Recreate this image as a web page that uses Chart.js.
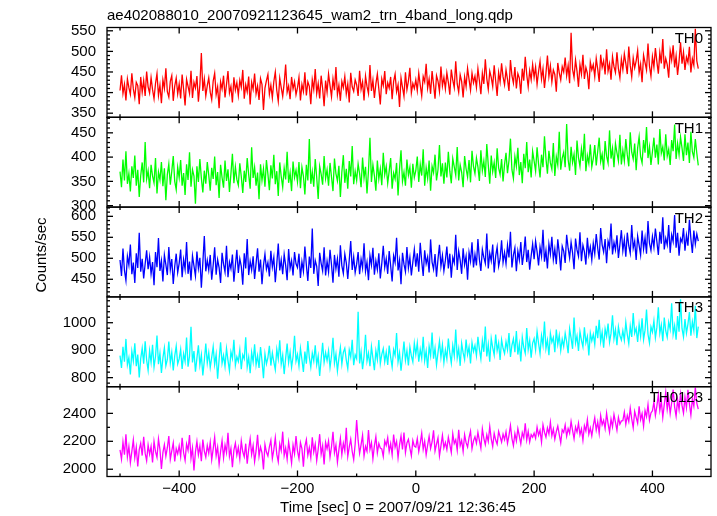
<!DOCTYPE html>
<html>
<head>
<meta charset="utf-8">
<script src="https://cdn.jsdelivr.net/npm/chart.js@4.4.1/dist/chart.umd.min.js"></script>
<style>
  html, body { margin: 0; padding: 0; background: #fff; }
  #wrap { width: 717px; height: 516px; }
</style>
</head>
<body>
<div id="wrap"><canvas id="lc" width="717" height="516"></canvas></div>
<script>
// ==== Textes
const TITLE = "ae402088010_20070921123645_wam2_trn_4band_long.qdp";
const X_TITLE = "Time [sec] 0 = 2007/09/21 12:36:45";
const Y_TITLE = "Counts/sec";

// ==== Grille temporelle (début des bins, pas en secondes)
const T_START = -500;
const T_STEP = 2.5;

// ==== Panneaux
const panelNames = ["TH0", "TH1", "TH2", "TH3", "TH0123"];
const panelColors = ["#ff0000", "#00ff00", "#0000ff", "#00ffff", "#ff00ff"];
const yMin = [340, 297, 408, 767, 1948];
const yMax = [558, 482, 622, 1094, 2591];
const yMinor = [10, 10, 10, 20, 100];
const yTicks = [
  [350, 400, 450, 500, 550],
  [300, 350, 400, 450],
  [450, 500, 550, 600],
  [800, 900, 1000],
  [2000, 2200, 2400]
];
const xTicks = [-400, -200, 0, 200, 400];

// ==== Séries (une valeur toutes les 2.5 s, une ligne = 50 s)
const th0 = [
  405, 442, 398, 420, 381, 433, 412, 396, 447, 409, 388, 425, 417, 372, 438, 401, 429, 392, 451, 414,
  399, 436, 407, 385, 422, 446, 393, 418, 374, 431, 410, 459, 402, 389, 427, 441, 380, 416, 435, 397,
  421, 386, 444, 408, 369, 432, 415, 398, 453, 387, 425, 411, 440, 378, 419, 496, 404, 433, 392, 417,
  436, 401, 383, 428, 447, 395, 414, 362, 426, 409, 441, 388, 420, 452, 399, 415, 376, 437, 406, 424,
  393, 430, 413, 455, 385, 419, 402, 439, 371, 425, 408, 446, 397, 416, 382, 434, 420, 358, 411, 429,
  444, 396, 418, 387, 427, 450, 405, 379, 435, 412, 391, 423, 468, 401, 416, 384, 438, 409, 426, 395,
  412, 437, 381, 420, 403, 449, 393, 426, 415, 372, 431, 408, 457, 398, 422, 386, 441, 410, 367, 429,
  401, 445, 417, 390, 433, 406, 462, 395, 418, 380, 427, 412, 439, 397, 421, 376, 448, 414, 403, 431,
  419, 392, 453, 408, 426, 381, 440, 415, 398, 467, 404, 430, 387, 421, 445, 409, 371, 433, 417, 452,
  396, 424, 411, 438, 384, 427, 445, 402, 419, 365, 436, 413, 391, 449, 407, 428, 460, 399, 422, 410,
  431, 405, 447, 418, 392, 439, 426, 470, 411, 433, 397, 452, 420, 385, 441, 428, 403, 463, 416, 437,
  409, 448, 425, 395, 456, 430, 412, 476, 421, 401, 443, 427, 388, 438, 415, 459, 432, 406, 447, 424,
  440, 413, 458, 429, 396, 447, 421, 481, 434, 408, 452, 437, 415, 466, 428, 392, 449, 426, 471, 438,
  419, 455, 432, 404, 479, 441, 423, 462, 410, 446, 435, 397, 458, 429, 487, 444, 414, 453, 431, 468,
  437, 462, 420, 451, 476, 433, 458, 411, 447, 490, 439, 465, 426, 455, 444, 402, 472, 448, 431, 463,
  450, 485, 441, 466, 423, 545, 456, 437, 479, 452, 414, 468, 445, 492, 433, 461, 447, 408, 474, 455,
  468, 439, 483, 457, 426, 492, 461, 477, 444, 505, 452, 470, 431, 487, 463, 449, 498, 458, 436, 481,
  456, 494, 471, 445, 512, 466, 438, 484, 460, 477, 502, 448, 469, 425, 491, 473, 455, 519, 464, 440,
  487, 462, 508, 475, 446, 497, 471, 530, 458, 483, 468, 436, 501, 479, 515, 461, 489, 443, 476, 522,
  470, 498, 455, 486, 473, 511, 449, 482, 466, 555, 477, 458
];
const th1 = [
  370, 338, 395, 352, 412, 345, 366, 329, 381, 357, 403, 341, 374, 318, 362, 389, 348, 431, 355, 372,
  336, 384, 361, 347, 398, 325, 369, 353, 390, 340, 377, 311, 364, 386, 343, 371, 402, 350, 333, 379,
  358, 394, 341, 367, 322, 385, 353, 410, 339, 374, 361, 304, 381, 349, 396, 357, 327, 372, 345, 390,
  363, 331, 378, 355, 401, 342, 369, 316, 384, 358, 337, 393, 351, 375, 328, 366, 407, 346, 380, 354,
  342, 387, 360, 326, 372, 349, 398, 364, 335, 420, 357, 379, 341, 368, 313, 385, 352, 376, 339, 394,
  365, 332, 383, 356, 405, 344, 371, 320, 389, 360, 338, 377, 354, 411, 347, 368, 330, 391, 358, 373,
  349, 390, 336, 379, 361, 323, 384, 352, 437, 345, 370, 339, 396, 358, 314, 381, 365, 343, 402, 356,
  374, 341, 388, 359, 330, 397, 366, 351, 382, 318, 369, 404, 347, 376, 335, 392, 360, 423, 344, 371,
  352, 386, 366, 338, 399, 357, 380, 325, 372, 440, 349, 384, 362, 331, 393, 355, 376, 342, 409, 364,
  381, 346, 371, 398, 335, 367, 355, 388, 321, 376, 414, 350, 369, 341, 395, 363, 379, 337, 386, 358,
  372, 401, 349, 385, 362, 416, 341, 378, 356, 393, 331, 381, 368, 405, 352, 374, 425, 360, 387, 345,
  389, 358, 411, 371, 346, 397, 380, 363, 421, 352, 384, 369, 338, 402, 376, 359, 394, 348, 413, 381,
  366, 398, 380, 351, 414, 372, 392, 359, 427, 384, 345, 403, 370, 389, 357, 418, 378, 364, 396, 350,
  385, 409, 367, 393, 438, 374, 356, 401, 381, 419, 363, 390, 346, 407, 377, 431, 369, 395, 358, 412,
  392, 371, 420, 386, 358, 405, 379, 443, 397, 366, 413, 388, 375, 429, 361, 401, 384, 452, 374, 398,
  410, 379, 468, 395, 372, 421, 389, 406, 363, 434, 399, 381, 417, 392, 448, 371, 403, 387, 426, 380,
  397, 425, 383, 412, 440, 391, 406, 374, 433, 402, 388, 455, 397, 418, 379, 428, 409, 392, 446, 385,
  414, 392, 437, 405, 381, 451, 410, 396, 428, 373, 419, 442, 401, 388, 435, 409, 462, 398, 421, 384,
  411, 440, 399, 426, 385, 458, 408, 421, 393, 447, 402, 416, 384, 435, 412, 467, 396, 428, 405, 441,
  419, 392, 447, 404, 430, 388, 452, 411, 399, 437, 408, 383
];
const th2 = [
  496, 458, 523, 471, 447, 505, 484, 533, 462, 490, 441, 512, 477, 561, 468, 499, 452, 487, 519, 474,
  503, 463, 491, 436, 515, 479, 548, 470, 494, 445, 508, 485, 460, 527, 473, 498, 439, 481, 511, 466,
  488, 521, 455, 497, 474, 539, 463, 492, 447, 506, 482, 458, 516, 476, 501, 430, 489, 553, 469, 495,
  472, 508, 449, 484, 526, 461, 497, 478, 441, 513, 486, 467, 530, 455, 491, 475, 509, 444, 483, 520,
  465, 499, 481, 437, 512, 476, 546, 460, 493, 472, 505, 451, 488, 524, 468, 497, 438, 483, 510, 474,
  490, 457, 518, 479, 502, 443, 486, 535, 471, 496, 462, 509, 483, 448, 522, 476, 494, 459, 515, 487,
  478, 511, 453, 492, 469, 528, 484, 446, 504, 477, 571, 463, 495, 481, 434, 513, 488, 470, 526, 459,
  493, 467, 520, 485, 442, 508, 475, 499, 456, 531, 482, 464, 510, 489, 451, 496, 541, 472, 503, 466,
  486, 515, 462, 498, 477, 536, 469, 491, 448, 507, 484, 525, 461, 494, 473, 512, 452, 488, 530, 478,
  499, 463, 517, 482, 445, 506, 490, 549, 471, 495, 438, 513, 486, 468, 527, 477, 502, 459, 491, 521,
  480, 512, 468, 537, 493, 458, 519, 487, 503, 466, 545, 491, 474, 510, 456, 498, 532, 481, 507, 470,
  495, 528, 476, 511, 454, 502, 489, 556, 472, 517, 496, 463, 524, 485, 505, 449, 514, 493, 538, 478,
  509, 483, 546, 497, 470, 521, 502, 488, 559, 476, 512, 494, 533, 466, 505, 527, 481, 499, 543, 490,
  514, 487, 531, 502, 563, 478, 508, 525, 469, 517, 496, 539, 484, 511, 552, 491, 520, 473, 506, 534,
  498, 541, 516, 483, 527, 505, 568, 492, 519, 476, 534, 510, 551, 497, 522, 486, 545, 513, 471, 529,
  517, 489, 556, 524, 501, 538, 513, 474, 547, 520, 505, 562, 493, 531, 516, 485, 549, 508, 527, 496,
  536, 511, 558, 524, 497, 572, 532, 515, 546, 488, 541, 527, 583, 509, 538, 520, 555, 501, 533, 567,
  518, 545, 504, 561, 530, 512, 579, 524, 541, 496, 553, 531, 508, 566, 522, 549, 511, 589, 536, 519,
  552, 527, 571, 540, 508, 563, 535, 598, 521, 548, 532, 579, 513, 556, 540, 603, 525, 561, 506, 547,
  539, 572, 518, 555, 530, 592, 547, 513, 566, 534, 558, 541
];
const th3 = [
  880, 835, 912, 858, 941, 847, 873, 812, 896, 861, 925, 842, 884, 801, 869, 907, 851, 932, 864, 827,
  898, 856, 920, 838, 877, 953, 849, 889, 817, 872, 908, 843, 866, 931, 854, 892, 826, 879, 915, 850,
  868, 903, 832, 887, 859, 946, 840, 878, 985, 855, 897, 822, 871, 918, 846, 883, 808, 862, 924, 853,
  891, 837, 874, 913, 848, 885, 796, 867, 929, 852, 881, 841, 906, 863, 825, 894, 870, 938, 845, 876,
  859, 901, 831, 883, 868, 947, 839, 874, 816, 892, 857, 921, 846, 880, 835, 911, 862, 798, 887, 850,
  873, 916, 844, 890, 857, 829, 903, 868, 936, 849, 882, 813, 871, 924, 855, 893, 838, 877, 952, 860,
  884, 842, 907, 866, 821, 895, 851, 933, 874, 838, 889, 861, 918, 847, 879, 806, 868, 927, 856, 891,
  862, 898, 837, 879, 945, 853, 886, 824, 871, 910, 849, 892, 907, 864, 833, 901, 875, 938, 845, 883,
  869, 1040, 852, 894, 831, 878, 956, 860, 889, 842, 913, 871, 827, 898, 866, 937, 851, 885, 906, 858,
  893, 846, 917, 874, 839, 902, 881, 962, 857, 890, 825, 876, 931, 863, 898, 844, 912, 879, 857, 925,
  884, 926, 858, 903, 871, 949, 862, 897, 835, 914, 880, 964, 869, 908, 846, 891, 933, 874, 919, 855,
  901, 868, 942, 889, 853, 917, 880, 975, 872, 906, 843, 925, 891, 866, 939, 884, 912, 852, 928, 895,
  917, 880, 949, 903, 868, 935, 894, 986, 877, 921, 858, 943, 909, 882, 957, 898, 926, 864, 938, 907,
  888, 931, 902, 962, 875, 918, 941, 893, 970, 884, 923, 859, 947, 910, 889, 981, 902, 935, 873, 926,
  942, 901, 968, 925, 887, 953, 918, 1004, 906, 937, 882, 961, 929, 946, 893, 975, 921, 954, 899, 940,
  913, 961, 930, 889, 978, 944, 905, 1019, 926, 952, 897, 968, 936, 912, 983, 927, 950, 881, 962, 934,
  958, 921, 989, 944, 1011, 931, 966, 909, 978, 950, 997, 929, 961, 1027, 942, 975, 918, 985, 953, 937,
  971, 936, 1002, 957, 924, 988, 948, 1035, 962, 980, 930, 994, 951, 1016, 939, 973, 1048, 958, 926, 985,
  966, 1007, 945, 983, 1056, 961, 992, 933, 1019, 970, 947, 1002, 976, 1071, 958, 990, 938, 1024, 967, 1085,
  979, 948, 1013, 962, 995, 1039, 953, 1004, 971, 1062, 944, 986
];
const th0123 = [
  2138, 2072, 2195, 2104, 2251, 2089, 2163, 2047, 2128, 2210, 2083, 2157, 2020, 2141, 2186, 2098, 2232, 2115, 2061, 2174,
  2107, 2163, 2049, 2198, 2126, 2085, 2217, 2141, 2002, 2119, 2176, 2093, 2154, 2238, 2071, 2132, 2189, 2056, 2148, 2110,
  2167, 2091, 2225, 2118, 2064, 2181, 2136, 2245, 2079, 2152, 1992, 2124, 2199, 2103, 2166, 2058, 2213, 2130, 2087, 2171,
  2114, 2193, 2068, 2146, 2230, 2097, 2159, 2036, 2128, 2205, 2082, 2174, 2119, 2261, 2092, 2148, 2015, 2137, 2187, 2101,
  2156, 2073, 2202, 2125, 2089, 2183, 2039, 2142, 2218, 2106, 2169, 2055, 2131, 2246, 2094, 2160, 2117, 1998, 2178, 2123,
  2095, 2161, 2208, 2077, 2140, 2226, 2108, 2053, 2181, 2133, 2269, 2099, 2152, 2071, 2195, 2126, 2044, 2173, 2112, 2237,
  2131, 2076, 2190, 2148, 2019, 2164, 2212, 2101, 2155, 2083, 2228, 2124, 2179, 2062, 2143, 2251, 2109, 2168, 2035, 2192,
  2146, 2203, 2087, 2161, 2268, 2118, 2174, 2051, 2139, 2221, 2105, 2186, 2133, 2297, 2092, 2158, 2215, 2127, 2069, 2181,
  2352, 2208, 2114, 2176, 2244, 2095, 2163, 2129, 2281, 2142, 2190, 2075, 2167, 2233, 2118, 2184, 2152, 2146, 2091, 2203,
  2171, 2226, 2128, 2184, 2104, 2249, 2158, 2199, 2083, 2175, 2238, 2141, 2263, 2120, 2188, 2214, 2151, 2097, 2206, 2165,
  2158, 2219, 2127, 2186, 2258, 2143, 2201, 2104, 2172, 2236, 2149, 2195, 2278, 2131, 2180, 2224, 2096, 2167, 2243, 2153,
  2192, 2141, 2229, 2176, 2119, 2254, 2184, 2211, 2137, 2283, 2168, 2206, 2128, 2247, 2190, 2159, 2226, 2272, 2147, 2203,
  2232, 2187, 2264, 2205, 2151, 2289, 2221, 2176, 2247, 2199, 2306, 2218, 2163, 2257, 2209, 2180, 2271, 2233, 2194, 2251,
  2212, 2268, 2186, 2243, 2314, 2220, 2169, 2256, 2203, 2291, 2238, 2182, 2262, 2225, 2329, 2210, 2271, 2196, 2248, 2230,
  2259, 2221, 2301, 2243, 2278, 2194, 2318, 2265, 2230, 2296, 2253, 2336, 2240, 2287, 2216, 2270, 2309, 2248, 2190, 2283,
  2264, 2317, 2236, 2291, 2258, 2342, 2279, 2219, 2303, 2266, 2329, 2247, 2288, 2208, 2312, 2274, 2355, 2251, 2296, 2239,
  2312, 2368, 2281, 2339, 2257, 2384, 2318, 2350, 2292, 2401, 2327, 2266, 2359, 2304, 2392, 2335, 2279, 2371, 2322, 2346,
  2348, 2409, 2322, 2385, 2341, 2436, 2360, 2297, 2414, 2372, 2330, 2451, 2355, 2398, 2309, 2420, 2376, 2462, 2351, 2403,
  2418, 2481, 2386, 2452, 2533, 2421, 2490, 2372, 2463, 2552, 2430, 2505, 2399, 2476, 2571, 2445, 2381, 2497, 2428, 2539,
  2457, 2402, 2516, 2441, 2568, 2468, 2389, 2503, 2452, 2585, 2474, 2431
];
const series = [th0, th1, th2, th3, th0123];
const times = th0.map((_, i) => T_START + i * T_STEP);

const FONT = "'Liberation Sans', Arial, Helvetica, sans-serif";

// ==== Cadres, graduations et textes à la façon QDP
const qdpFrame = {
  id: "qdpFrame",
  beforeDatasetDraw(chart, args) {
    const ys = args.meta.yScale, a = chart.chartArea, ctx = chart.ctx;
    ctx.save();
    ctx.beginPath();
    ctx.rect(a.left, ys.top, a.right - a.left, ys.bottom - ys.top);
    ctx.clip();
  },
  afterDatasetDraw(chart) {
    chart.ctx.restore();
  },
  afterDraw(chart) {
    const ctx = chart.ctx, a = chart.chartArea, xs = chart.scales.x;
    const seg = (x1, y1, x2, y2) => {
      ctx.beginPath(); ctx.moveTo(x1, y1); ctx.lineTo(x2, y2); ctx.stroke();
    };
    ctx.save();
    ctx.strokeStyle = "#000";
    ctx.lineWidth = 1.3;
    panelNames.forEach((name, p) => {
      const ys = chart.scales["y" + p];
      const top = ys.top, bot = ys.bottom;
      ctx.strokeRect(a.left, top, a.right - a.left, bot - top);
      for (let v = -500; v <= 400; v += 100) {
        const px = xs.getPixelForValue(v);
        const len = v % 200 === 0 ? 6 : 3;
        seg(px, top, px, top + len);
        seg(px, bot, px, bot - len);
      }
      for (let v = Math.ceil(yMin[p] / yMinor[p]) * yMinor[p]; v <= yMax[p]; v += yMinor[p]) {
        const py = ys.getPixelForValue(v);
        const len = yTicks[p].includes(v) ? 6 : 3;
        seg(a.left, py, a.left + len, py);
        seg(a.right, py, a.right - len, py);
      }
      ctx.fillStyle = "#000";
      ctx.font = "15px " + FONT;
      ctx.textAlign = "right";
      ctx.textBaseline = "alphabetic";
      ctx.fillText(name, 703, top + 15.5);
    });

    ctx.fillStyle = "#000";
    ctx.font = "15px " + FONT;
    ctx.textAlign = "left";
    ctx.textBaseline = "alphabetic";
    ctx.fillText(TITLE, a.left, 19.5);

    ctx.textAlign = "center";
    ctx.fillText(X_TITLE, 398, 511.5);

    ctx.translate(46, 255);
    ctx.rotate(-Math.PI / 2);
    ctx.fillText(Y_TITLE, 0, 0);
    ctx.restore();
  }
};

// ==== Échelles
const scales = {
  x: {
    type: "linear",
    position: "bottom",
    min: -522,
    max: 499,
    grid: { display: false, drawTicks: false },
    border: { display: false },
    afterBuildTicks: s => { s.ticks = xTicks.map(v => ({ value: v })); },
    ticks: {
      maxRotation: 0,
      autoSkip: false,
      padding: 3,
      color: "#000",
      font: { family: FONT, size: 15 },
      callback: v => (v < 0 ? "\u2212" + Math.abs(v) : String(v))
    },
    afterFit: s => { s.height = 39.5; }
  }
};
// déclarés à l'envers : la dernière échelle empilée se place en haut
for (let p = panelNames.length - 1; p >= 0; p--) {
  scales["y" + p] = {
    type: "linear",
    position: "left",
    stack: "panels",
    stackWeight: 1,
    min: yMin[p],
    max: yMax[p],
    grid: { display: false, drawTicks: false },
    border: { display: false },
    afterBuildTicks: s => { s.ticks = yTicks[p].map(v => ({ value: v })); },
    ticks: {
      autoSkip: false,
      padding: 11,
      color: "#000",
      font: { family: FONT, size: 15 },
      callback: v => String(v)
    },
    afterFit: s => { s.width = 107; }
  };
}

new Chart(document.getElementById("lc"), {
  type: "line",
  data: {
    labels: times,
    datasets: series.map((vals, p) => ({
      label: panelNames[p],
      data: vals,
      yAxisID: "y" + p,
      borderColor: panelColors[p],
      borderWidth: 1.3,
      pointRadius: 0,
      tension: 0,
      fill: false
    }))
  },
  options: {
    responsive: false,
    animation: false,
    devicePixelRatio: 1,
    layout: { padding: { top: 27.5, right: 6, left: 0, bottom: 0 } },
    plugins: { legend: { display: false }, tooltip: { enabled: false } },
    scales: scales
  },
  plugins: [qdpFrame]
});
</script>
</body>
</html>
